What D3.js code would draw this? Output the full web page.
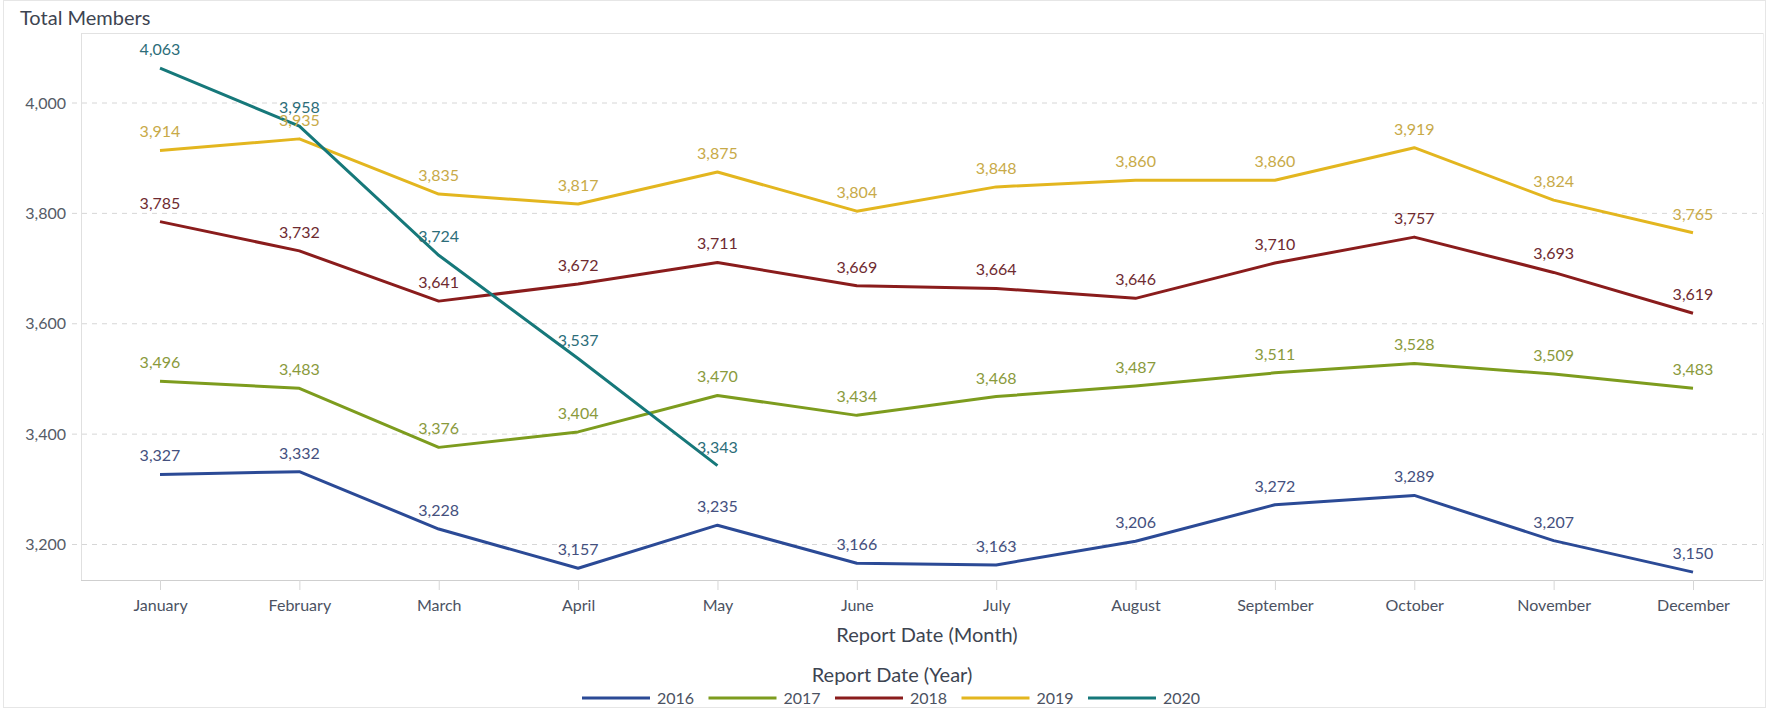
<!DOCTYPE html>
<html><head><meta charset="utf-8">
<script src="https://cdn.jsdelivr.net/npm/d3@7"></script>
<style>
html,body{margin:0;padding:0;background:#fff;}
svg{display:block;font-family:Lato,"Open Sans",sans-serif;}
</style></head>
<body>
<svg id="chart" width="1769" height="708"></svg>
<script>
const months = ["January","February","March","April","May","June","July","August","September","October","November","December"];
const years = ["2016","2017","2018","2019","2020"];
const values2016 = [3327,3332,3228,3157,3235,3166,3163,3206,3272,3289,3207,3150];
const values2017 = [3496,3483,3376,3404,3470,3434,3468,3487,3511,3528,3509,3483];
const values2018 = [3785,3732,3641,3672,3711,3669,3664,3646,3710,3757,3693,3619];
const values2019 = [3914,3935,3835,3817,3875,3804,3848,3860,3860,3919,3824,3765];
const values2020 = [4063,3958,3724,3537,3343];
const yTicks = [3200,3400,3600,3800,4000];

const lineColors = ["#2b4a96","#7d9c1e","#8a1c1c","#e3b61f","#16787a"];
const labelColors = ["#44507e","#8a9a3c","#6e2a30","#c8aa48","#2c6d79"];

const seriesValues = [values2016,values2017,values2018,values2019,values2020];
const series = years.map((y,i)=>({year:y, values:seriesValues[i], line:lineColors[i], label:labelColors[i]}));

const svg = d3.select("#chart");
const W = 1769, H = 708;
const plotLeft = 81, plotRight = 1763, plotTop = 33, plotBottom = 580;

const x = d3.scalePoint().domain(months).range([160,1693]);
const y = d3.scaleLinear().domain([3200,4000]).range([544.5,103]);

// outer frame
svg.append("rect").attr("x",3.5).attr("y",0.5).attr("width",W-7).attr("height",H-1)
  .attr("fill","none").attr("stroke","#e6e6e6");

// title
svg.append("text").attr("x",20).attr("y",25).attr("font-size",20).attr("fill","#3d4451")
  .text("Total Members");

// plot frame
svg.append("line").attr("x1",plotLeft).attr("x2",plotRight).attr("y1",plotTop+0.5).attr("y2",plotTop+0.5).attr("stroke","#e2e2e2");
svg.append("line").attr("x1",plotLeft+0.5).attr("x2",plotLeft+0.5).attr("y1",plotTop).attr("y2",plotBottom).attr("stroke","#e0e0e0");
svg.append("line").attr("x1",plotRight+0.5).attr("x2",plotRight+0.5).attr("y1",plotTop).attr("y2",plotBottom).attr("stroke","#efefef");

// y axis with grid
const yAxis = d3.axisLeft(y).tickValues(yTicks).tickFormat(d3.format(",")).tickSize(0).tickPadding(15);
const gy = svg.append("g").attr("transform",`translate(${plotLeft},0)`).call(yAxis);
gy.select(".domain").remove();
gy.selectAll("text").attr("font-size",16).attr("fill","#555b66").attr("font-family","Lato,'Open Sans',sans-serif");
svg.append("g").selectAll("line").data(yTicks).join("line")
  .attr("x1",72).attr("x2",plotRight).attr("y1",d=>y(d)).attr("y2",d=>y(d))
  .attr("stroke","#d6d6d6").attr("stroke-dasharray","5,5");

// x axis
const xAxis = d3.axisBottom(x).tickSize(10).tickPadding(10);
const gx = svg.append("g").attr("transform",`translate(0,${plotBottom})`).call(xAxis);
gx.select(".domain").attr("d",`M${plotLeft},0.5H${plotRight}`).attr("stroke","#cfcfcf");
gx.selectAll(".tick line").attr("stroke","#d6d6d6");
gx.selectAll("text").attr("font-size",16).attr("fill","#4b5262").attr("font-family","Lato,'Open Sans',sans-serif");

// axis title
svg.append("text").attr("x",927).attr("y",642).attr("text-anchor","middle").attr("font-size",20).attr("fill","#3d4451")
  .text("Report Date (Month)");

// lines
const line = d3.line().x((d,i)=>x(months[i])).y(d=>y(d));
const gl = svg.append("g");
series.forEach(s=>{
  gl.append("path").datum(s.values).attr("d",line).attr("fill","none")
    .attr("stroke",s.line).attr("stroke-width",3).attr("stroke-linejoin","round");
});
// labels
const fmt = d3.format(",");
const glab = svg.append("g");
series.forEach(s=>{
  glab.selectAll(null).data(s.values).join("text")
    .attr("x",(d,i)=>x(months[i])).attr("y",d=>y(d)-13)
    .attr("text-anchor","middle").attr("font-size",16).attr("fill",s.label)
    .text(d=>fmt(d));
});

// legend
svg.append("text").attr("x",892).attr("y",682).attr("text-anchor","middle").attr("font-size",20).attr("fill","#3d4451")
  .text("Report Date (Year)");
const lg = svg.append("g");
series.forEach((s,i)=>{
  const x0 = 582 + i*126.5;
  lg.append("line").attr("x1",x0).attr("x2",x0+68).attr("y1",698).attr("y2",698)
    .attr("stroke",s.line).attr("stroke-width",3);
  lg.append("text").attr("x",x0+75).attr("y",704).attr("font-size",16).attr("fill","#4b5262").text(s.year);
});
</script>
</body></html>
